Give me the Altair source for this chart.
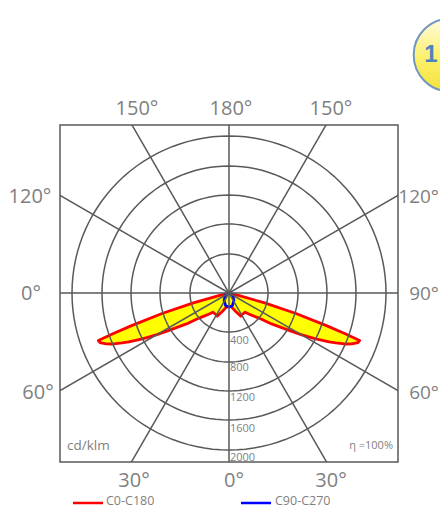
import altair as alt
import numpy as np
import pandas as pd

# Luminous intensity (cd/klm) against angle from nadir
gamma_c0 = [0, 12, 20, 27, 33, 40, 45, 50, 54, 58, 60, 62, 64, 65, 66.5, 67.5, 69, 70, 70.7, 71.5, 73, 74.5, 77, 90]
i_c0 = [166, 190, 250, 331, 320, 320, 395, 497, 670, 892, 1060, 1236, 1420, 1503, 1630, 1694, 1760, 1771, 1560, 1300, 892, 471, 76, 0]
gamma_c90 = [0, 15, 33, 58, 75, 90]
i_c90 = [178, 166, 115, 57, 25, 0]
ring_values = [497, 879, 1248, 1618, 2000]
spoke_angles = [0, 30, 60, 90, 120, 150, 180, 210, 240, 270, 300, 330]

scale_labels = ["400", "800", "1200", "1600", "2000"]
series_names = ["C0-C180", "C90-C270"]

K = 2000 / 157.0
RED, BLUE, YELLOW = "#ff0000", "#0000ff", "#ffff00"
GRID, TXT = "#595959", "#7f7f7f"
FONT = "Open Sans"
OX, OY = 52, 117  # plot origin inside the svg


def curve(gammas, values):
    g = np.array([-a for a in gammas[::-1]] + list(gammas[1:]), dtype=float)
    r = np.array(list(values[::-1]) + list(values[1:]), dtype=float)
    a = np.radians(g)
    return pd.DataFrame({"x": r * np.sin(a), "y": -r * np.cos(a), "o": np.arange(len(g))})


xs = alt.Scale(domain=[-169 * K, 169 * K], nice=False, zero=False)
ys = alt.Scale(domain=[-169 * K, 168 * K], nice=False, zero=False)
X = alt.X("x:Q", scale=xs, axis=None)
Y = alt.Y("y:Q", scale=ys, axis=None)

layers = []
for df, col in ((curve(gamma_c0, i_c0), RED), (curve(gamma_c90, i_c90), BLUE)):
    layers.append(
        alt.Chart(df).mark_line(fill=YELLOW, stroke=col, strokeWidth=2.8, clip=True, strokeJoin="round")
        .encode(x=X, y=Y, order="o:Q")
    )

# rings
t = np.radians(np.arange(0, 361, 3))
ring_rows = [{"x": v * np.sin(a), "y": v * np.cos(a), "ring": v, "o": i}
             for v in ring_values for i, a in enumerate(t)]
layers.append(
    alt.Chart(pd.DataFrame(ring_rows)).mark_line(stroke=GRID, strokeWidth=1.5, clip=True)
    .encode(x=X, y=Y, detail="ring:N", order="o:Q")
)

# spokes
far = 6000
spokes = pd.DataFrame({
    "x": [0.0] * len(spoke_angles),
    "y": [0.0] * len(spoke_angles),
    "x2": [far * np.sin(np.radians(a)) for a in spoke_angles],
    "y2": [far * np.cos(np.radians(a)) for a in spoke_angles],
})
layers.append(
    alt.Chart(spokes).mark_rule(stroke=GRID, strokeWidth=1.5, clip=True)
    .encode(x=X, y=Y, x2="x2:Q", y2="y2:Q")
)


def label(text, px, py, size, color=TXT, align="center", weight="normal", font=FONT):
    return (
        alt.Chart(pd.DataFrame({"t": [text]}))
        .mark_text(fontSize=size, color=color, align=align, baseline="middle", font=font, fontWeight=weight)
        .encode(text="t:N", x=alt.value(px - 8 - OX), y=alt.value(py - 8 - OY))
    )


for txt, px, py in [("150°", 137, 109), ("180°", 231, 109), ("150°", 331, 109),
                    ("120°", 30, 197),
                    ("0°", 31, 294),
                    ("60°", 38, 393),
                    ("30°", 134, 481), ("0°", 234, 481), ("30°", 331, 481)]:
    layers.append(label(txt, px, py, 20))

for txt, py in [("120°", 197), ("90°", 294), ("60°", 393)]:
    layers.append(label(txt, 439, py, 19, align="right"))

for txt, py in zip(scale_labels, [341, 368, 398, 429, 458]):
    layers.append(label(txt, 230, py, 11, align="left"))

layers.append(label("cd/klm", 67, 446, 13.5, align="left"))
layers.append(label("η =100%", 393, 446, 11, align="right"))

# legend
for name, col, x1, tx in ((series_names[0], RED, 73, 106), (series_names[1], BLUE, 241, 275)):
    layers.append(
        alt.Chart(pd.DataFrame({"a": [0]})).mark_rule(stroke=col, strokeWidth=2.5)
        .encode(x=alt.value(x1 - 8 - OX), x2=alt.value(x1 + 30 - 8 - OX),
                y=alt.value(503 - 8 - OY))
    )
    layers.append(label(name, tx, 501, 12.5, align="left"))

# badge
badge_fill = alt.Gradient(
    gradient="linear", x1=0, y1=0, x2=0, y2=1,
    stops=[alt.GradientStop(color="#fffbe0", offset=0),
           alt.GradientStop(color="#fdf06a", offset=0.55),
           alt.GradientStop(color="#f5e03c", offset=1)],
)
layers.append(
    alt.Chart(pd.DataFrame({"a": [0]}))
    .mark_point(shape="circle", filled=True, size=np.pi * 41 ** 2, fill=badge_fill,
                stroke="#6f97c0", strokeWidth=2, opacity=1, fillOpacity=1, clip=False)
    .encode(x=alt.value(450 - 8 - OX), y=alt.value(55 - 8 - OY))
)
layers.append(label("1", 431, 55, 24, color="#4f81bd", weight="bold", font="Liberation Sans"))

chart = (
    alt.layer(*layers)
    .properties(
        width=338, height=337,
        autosize=alt.AutoSizeParams(type="none"),
        padding={"left": OX, "top": OY, "right": 42, "bottom": 48},
        background="#ffffff",
    )
    .configure_view(stroke=GRID, strokeWidth=1.5)
)
chart.save("out.html", embed_options={"renderer": "svg", "actions": False})
